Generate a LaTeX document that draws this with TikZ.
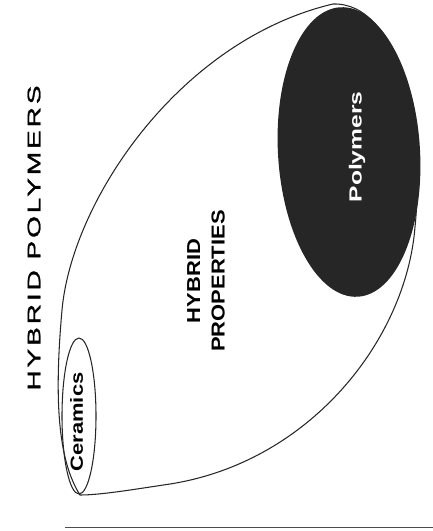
\documentclass[tikz,border=0pt]{standalone}
\usepackage{fontspec}
\usepackage{graphicx}
\setmainfont{Liberation Sans}
\newfontfamily\titlefont[LetterSpace=10, FakeBold=1.2]{Liberation Sans}

\begin{document}
\begin{tikzpicture}[
    x=0.03cm, y=-0.03cm,
    outline/.style={draw=black!85, line width=0.9pt},
    lbl/.style={inner sep=0pt, rotate=90, align=center, font=\bfseries}
]
\useasboundingbox (0,0) rectangle (433,531);

% hybrid region
\draw[outline] (80,495) .. controls (58,460) and (54,400) .. (62,310)
    .. controls (72,200) and (180,40) .. (333,4)
    .. controls (400,2) and (425,130) .. (415,227)
    .. controls (406,340) and (310,462) .. (170,484)
    .. controls (130,490) and (100,495) .. cycle;

\fill[black!85, rotate around={3.5:(349,152)}] (349,152) ellipse [x radius=71, y radius=145];
\draw[outline] (79,416) ellipse [x radius=17, y radius=78];

\node[lbl, font=\titlefont\fontsize{15.5}{18}\selectfont] (title) at (34,238) {\scalebox{1.55}[1]{HYBRID POLYMERS}};
\node[lbl, text=white, font=\fontsize{15}{18}\selectfont\bfseries] (poly) at (357,147) {\scalebox{1.4}[1]{Polymers}};
\node[lbl, font=\fontsize{15}{18}\selectfont\bfseries] (cer) at (76.5,422) {\scalebox{1.25}[1]{Ceramics}};
\node[lbl, font=\fontsize{16}{21}\selectfont\bfseries] (hyb) at (206,281) {\scalebox{1.17}[1]{HYBRID}\\\scalebox{1.17}[1]{PROPERTIES}};

\coordinate (rl) at (65,527);
\coordinate (rr) at (433,527);
\draw[black!70, line width=0.6pt] (rl) -- (rr);
\end{tikzpicture}
\end{document}
